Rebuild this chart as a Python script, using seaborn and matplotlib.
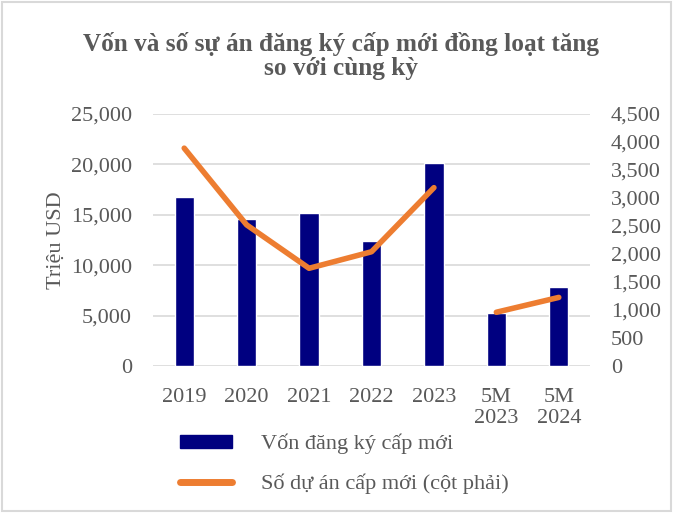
import numpy as np
import pandas as pd
import matplotlib
matplotlib.use("Agg")
import matplotlib.pyplot as plt
import seaborn as sns
from matplotlib.patches import Patch
from matplotlib.lines import Line2D
from matplotlib.ticker import FuncFormatter

periods = ["2019", "2020", "2021", "2022", "2023", "5M\n2023", "5M\n2024"]
von_dang_ky = [16740, 14610, 15210, 12400, 20170, 5230, 7870]
so_du_an = [3890, 2520, 1745, 2040, 3185, 960, 1225]
segment = ["a", "a", "a", "a", "a", "b", "b"]

NAVY = "#000080"
ORANGE = "#ED7D31"
GREY = "#595959"
FS = 16


def main():
    sns.set_style("white")
    plt.rcParams["font.family"] = ["Liberation Serif", "DejaVu Serif"]

    df = pd.DataFrame({
        "period": periods,
        "pos": np.arange(len(periods)),
        "von": von_dang_ky,
        "du_an": so_du_an,
        "seg": segment,
    })

    fig = plt.figure(figsize=(6.73, 5.13), dpi=100)
    ax = fig.add_axes([153 / 673, 1 - 366 / 513, 437 / 673, 252 / 513])

    sns.barplot(data=df, x="pos", y="von", color=NAVY, width=0.31,
                saturation=1, ax=ax, zorder=2)
    ax.set_ylim(0, 25000)
    ax.set_xlim(-0.5, 6.5)
    ax.set_yticks(range(0, 25001, 5000))
    ax.yaxis.set_major_formatter(FuncFormatter(lambda v, p: f"{int(v):,}"))
    ax.set_xticks(range(len(periods)))
    ax.set_xticklabels(periods, linespacing=1.15)
    ax.grid(axis="y", color="#d9d9d9", linewidth=1.2, zorder=0)
    ax.set_axisbelow(True)
    ax.set_xlabel("")
    ax.set_ylabel("Triệu USD", fontsize=FS, color=GREY, labelpad=4)
    for s in ax.spines.values():
        s.set_visible(False)
    ax.tick_params(axis="both", length=0, labelsize=FS, colors=GREY)
    ax.tick_params(axis="y", pad=15)
    ax.tick_params(axis="x", pad=16)

    ax2 = ax.twinx()
    sns.lineplot(data=df, x="pos", y="du_an", units="seg", estimator=None,
                 color=ORANGE, linewidth=4, solid_capstyle="round", ax=ax2)
    ax2.set_ylim(0, 4500)
    ax2.set_yticks(range(0, 4501, 500))
    ax2.yaxis.set_major_formatter(FuncFormatter(lambda v, p: f"{int(v):,}"))
    ax2.set_ylabel("")
    for s in ax2.spines.values():
        s.set_visible(False)
    ax2.tick_params(axis="y", length=0, labelsize=FS, colors=GREY, pad=15)

    fig.text(0.506, 1 - 56 / 513, "Vốn và số sự án đăng ký cấp mới đồng loạt tăng\nso với cùng kỳ",
             ha="center", va="center", fontsize=18.2, fontweight="bold",
             color=GREY, linespacing=1.0)

    handles = [Patch(facecolor=NAVY, edgecolor=NAVY),
               Line2D([0], [0], color=ORANGE, linewidth=5, solid_capstyle="round")]
    labels = ["Vốn đăng ký cấp mới", "Số dự án cấp mới (cột phải)"]
    leg = fig.legend(handles, labels, loc="upper left",
                     bbox_to_anchor=(160 / 673, 1 - 414 / 513), frameon=False,
                     fontsize=FS, handlelength=2.35, handleheight=0.55,
                     handletextpad=1.3, labelspacing=0.85)
    for t in leg.get_texts():
        t.set_color(GREY)

    fig.patches.append(plt.Rectangle((0.003, 0.003), 0.994, 0.994, transform=fig.transFigure,
                                     fill=False, edgecolor="#d9d9d9", linewidth=1.5))

    fig.savefig("out.png", dpi=100)


if __name__ == "__main__":
    main()
